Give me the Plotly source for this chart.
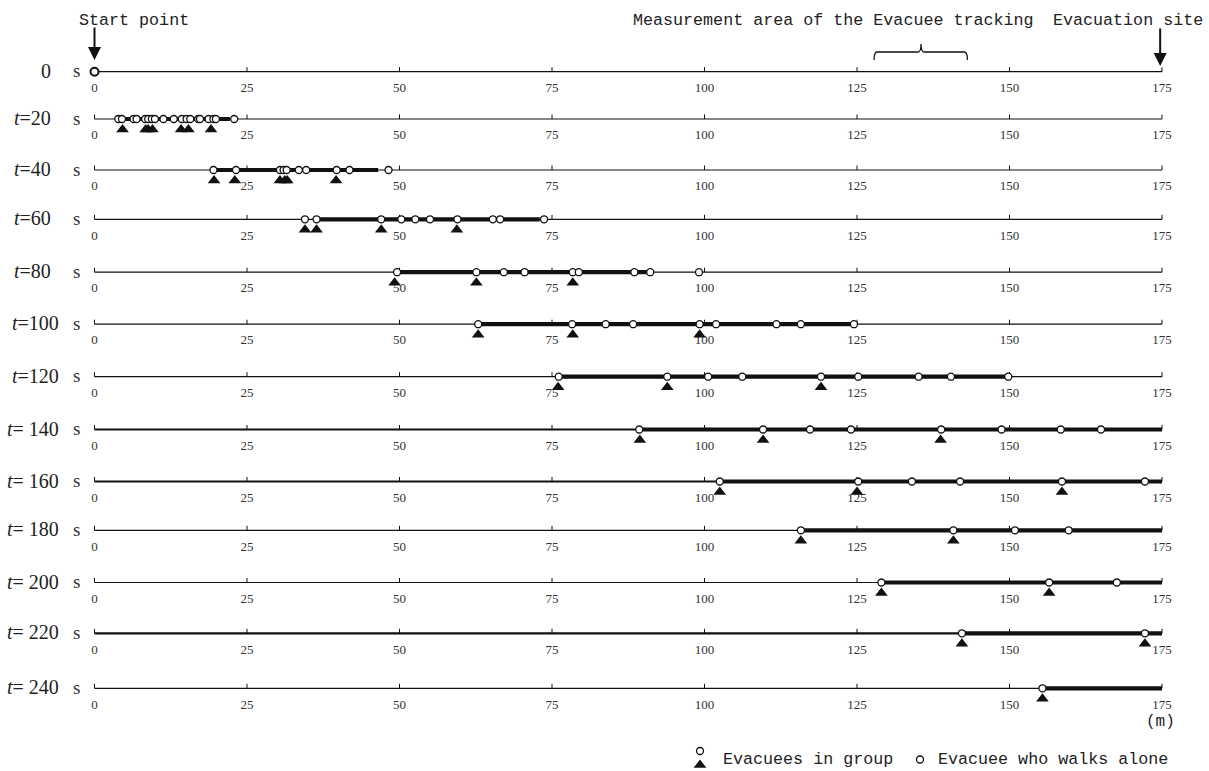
import plotly.graph_objects as go

# ---------------- data (metres along the evacuation route) ----------------
TIMES = [0, 20, 40, 60, 80, 100, 120, 140, 160, 180, 200, 220, 240]
TICKS = [0, 25, 50, 75, 100, 125, 150, 175]
TICK_LABELS = ["0", "25", "50", "75", "100", "125", "150", "175"]
ROUTE_END = 175

# every evacuee (open circles)
pos_t000 = [0.0]
pos_t020 = [3.9, 4.5, 6.4, 6.9, 8.3, 8.8, 9.4, 9.9, 11.3, 13.0, 14.3, 15.1, 15.7,
            17.0, 17.3, 18.7, 19.5, 19.9, 22.9]
pos_t040 = [19.5, 23.2, 30.4, 31.0, 31.5, 33.5, 34.7, 39.7, 41.8, 48.2]
pos_t060 = [34.5, 36.4, 47.0, 50.3, 52.6, 55.0, 59.5, 65.3, 66.5, 73.7]
pos_t080 = [49.6, 62.6, 67.1, 70.5, 78.4, 79.4, 88.5, 91.1, 99.1]
pos_t100 = [62.9, 78.3, 83.8, 88.3, 99.2, 101.9, 111.8, 115.8, 124.5]
pos_t120 = [76.1, 93.9, 100.6, 106.2, 119.1, 125.2, 135.1, 140.4, 149.8]
pos_t140 = [89.3, 109.6, 117.3, 124.0, 138.8, 148.7, 158.4, 165.0]
pos_t160 = [102.5, 125.2, 134.0, 141.9, 158.6, 172.2]
pos_t180 = [115.8, 140.8, 150.9, 159.7]
pos_t200 = [129.0, 156.5, 167.6]
pos_t220 = [142.2, 172.2]
pos_t240 = [155.4]

# evacuees walking in a group (filled triangles)
grp_t000 = []
grp_t020 = [4.6, 8.4, 8.8, 9.5, 14.2, 15.4, 19.1]
grp_t040 = [19.6, 23.0, 30.4, 31.2, 31.6, 39.6]
grp_t060 = [34.5, 36.4, 47.0, 59.4]
grp_t080 = [49.2, 62.6, 78.4]
grp_t100 = [62.9, 78.4, 99.2]
grp_t120 = [76.0, 93.9, 119.1]
grp_t140 = [89.4, 109.6, 138.7]
grp_t160 = [102.5, 125.0, 158.6]
grp_t180 = [115.8, 140.8]
grp_t200 = [129.0, 156.5]
grp_t220 = [142.2, 172.2]
grp_t240 = [155.4]

# extent of the dense flow (thick bar) [start, end]
band_t000 = []
band_t020 = [3.9, 22.2]
band_t040 = [19.5, 46.5]
band_t060 = [36.4, 73.0]
band_t080 = [49.6, 91.1]
band_t100 = [62.9, 124.5]
band_t120 = [76.1, 149.8]
band_t140 = [89.3, 175]
band_t160 = [102.5, 175]
band_t180 = [115.8, 175]
band_t200 = [129.0, 175]
band_t220 = [142.2, 175]
band_t240 = [155.4, 175]

MEASUREMENT_AREA = [127.8, 143.1]
MEASUREMENT_MID = 135.5

POSITIONS = [pos_t000, pos_t020, pos_t040, pos_t060, pos_t080, pos_t100, pos_t120,
             pos_t140, pos_t160, pos_t180, pos_t200, pos_t220, pos_t240]
GROUPS = [grp_t000, grp_t020, grp_t040, grp_t060, grp_t080, grp_t100, grp_t120,
          grp_t140, grp_t160, grp_t180, grp_t200, grp_t220, grp_t240]
BANDS = [band_t000, band_t020, band_t040, band_t060, band_t080, band_t100, band_t120,
         band_t140, band_t160, band_t180, band_t200, band_t220, band_t240]

# ---------------- layout constants ----------------
W, H = 1209, 771
X0_PX = 94.5          # pixel of 0 m
PX_PER_M = 6.1        # pixels per metre
ROW_Y = [71.7, 119, 170, 219.3, 272.2, 324.2, 376.7, 429.5, 481.5, 530.3, 582.5, 633.3, 688.3]
BASE_W = [1.2, 1.2, 1.2, 1.2, 1.2, 1.2, 1.2, 2.2, 2.2, 1.2, 1.2, 2.2, 1.2]
INK = "#111111"
SERIF = "Liberation Serif"
MONO = "Liberation Mono"


def m(px):
    """pixel x -> metres"""
    return (px - X0_PX) / PX_PER_M


fig = go.Figure()

for i, t in enumerate(TIMES):
    y = ROW_Y[i]
    # base route line
    fig.add_trace(go.Scatter(x=[0, ROUTE_END], y=[y, y], mode="lines",
                             line=dict(color=INK, width=BASE_W[i]), hoverinfo="skip"))
    # ticks
    tx, ty = [], []
    for v in TICKS:
        tx += [v, v, None]
        ty += [y, y - 4.5, None]
    fig.add_trace(go.Scatter(x=tx, y=ty, mode="lines",
                             line=dict(color=INK, width=1), hoverinfo="skip"))
    # tick labels
    fig.add_trace(go.Scatter(x=TICKS, y=[y + 17] * len(TICKS), mode="text",
                             text=TICK_LABELS,
                             textfont=dict(family=SERIF, size=13, color="#333333"),
                             hoverinfo="skip"))
    # thick flow bar
    if BANDS[i]:
        fig.add_trace(go.Scatter(x=BANDS[i], y=[y, y], mode="lines",
                                 line=dict(color=INK, width=4.2), hoverinfo="skip"))
    # group triangles
    if GROUPS[i]:
        fig.add_trace(go.Scatter(x=GROUPS[i], y=[y + 10.5] * len(GROUPS[i]), mode="markers",
                                 marker=dict(symbol="triangle-up", size=11, color=INK,
                                             line=dict(width=0)),
                                 hoverinfo="skip"))
    # evacuees
    fig.add_trace(go.Scatter(x=POSITIONS[i], y=[y] * len(POSITIONS[i]), mode="markers",
                             marker=dict(symbol="circle", size=8 if t == 0 else 7,
                                         color="white",
                                         line=dict(color=INK, width=2 if t == 0 else 1.3)),
                             hoverinfo="skip"))

annotations = []
# row labels
for i, t in enumerate(TIMES):
    y = ROW_Y[i] - 1
    if t == 0:
        txt, right = "0", 53
    elif t < 100:
        txt, right = f"<i>t</i>={t}", 53
    elif t < 140:
        txt, right = f"<i>t</i>={t}", 61
    else:
        txt, right = f"<i>t</i>= {t}", 61
    annotations.append(dict(x=m(right), y=y, xref="x", yref="y", text=txt,
                            showarrow=False, xanchor="right", yanchor="middle",
                            font=dict(family=SERIF, size=20, color="#222222")))
    annotations.append(dict(x=m(76), y=y, xref="x", yref="y", text="s",
                            showarrow=False, xanchor="center", yanchor="middle",
                            font=dict(family=SERIF, size=19, color="#333333")))

# top texts
annotations.append(dict(x=m(77), y=20, xref="x", yref="y", text="Start point",
                        showarrow=False, xanchor="left", yanchor="middle",
                        font=dict(family=MONO, size=16.7, color="#222222")))
annotations.append(dict(x=m(631), y=20.5, xref="x", yref="y",
                        text="Measurement area of the Evacuee tracking",
                        showarrow=False, xanchor="left", yanchor="middle",
                        font=dict(family=MONO, size=16.7, color="#222222")))
annotations.append(dict(x=m(1051), y=20.5, xref="x", yref="y", text="Evacuation site",
                        showarrow=False, xanchor="left", yanchor="middle",
                        font=dict(family=MONO, size=16.7, color="#222222")))
# arrows
annotations.append(dict(x=0, y=60, xref="x", yref="y", ax=0, ay=-34, text="",
                        showarrow=True, arrowhead=2, arrowsize=1.3, arrowwidth=2,
                        arrowcolor=INK))
annotations.append(dict(x=ROUTE_END - 0.3, y=66, xref="x", yref="y", ax=0, ay=-39, text="",
                        showarrow=True, arrowhead=2, arrowsize=1.3, arrowwidth=2,
                        arrowcolor=INK))
# unit
annotations.append(dict(x=m(1160), y=722, xref="x", yref="y", text="(m)",
                        showarrow=False, xanchor="center", yanchor="middle",
                        font=dict(family=MONO, size=16, color="#222222")))
# legend texts
annotations.append(dict(x=m(721), y=759, xref="x", yref="y", text="Evacuees in group",
                        showarrow=False, xanchor="left", yanchor="middle",
                        font=dict(family=MONO, size=16.7, color="#222222")))
annotations.append(dict(x=m(936), y=759, xref="x", yref="y",
                        text="Evacuee who walks alone",
                        showarrow=False, xanchor="left", yanchor="middle",
                        font=dict(family=MONO, size=16.7, color="#222222")))

# legend symbols
fig.add_trace(go.Scatter(x=[m(700)], y=[765], mode="markers",
                         marker=dict(symbol="triangle-up", size=11, color=INK),
                         hoverinfo="skip"))
fig.add_trace(go.Scatter(x=[m(700), m(920)], y=[751, 759.5], mode="markers",
                         marker=dict(symbol="circle", size=7, color="white",
                                     line=dict(color=INK, width=1.3)),
                         hoverinfo="skip"))

# brace over the measurement area
a, b = MEASUREMENT_AREA
c = MEASUREMENT_MID
d = 3 / PX_PER_M
brace = (f"M {a},60 Q {a},52 {a + d},52 L {c - d},52 Q {c},52 {c},44 "
         f"Q {c},52 {c + d},52 L {b - d},52 Q {b},52 {b},60")
shapes = [dict(type="path", path=brace, xref="x", yref="y",
               line=dict(color=INK, width=1.3))]

fig.update_layout(
    width=W, height=H,
    margin=dict(l=0, r=0, t=0, b=0),
    paper_bgcolor="white", plot_bgcolor="white",
    showlegend=False, hovermode=False,
    xaxis=dict(range=[m(0), m(W)], visible=False, fixedrange=True),
    yaxis=dict(range=[H, 0], visible=False, fixedrange=True),
    annotations=annotations, shapes=shapes,
)

fig.write_html("out.html",
               config={"displayModeBar": False, "staticPlot": True},
               post_script="document.body.style.margin='0';document.body.style.overflow='hidden';")
